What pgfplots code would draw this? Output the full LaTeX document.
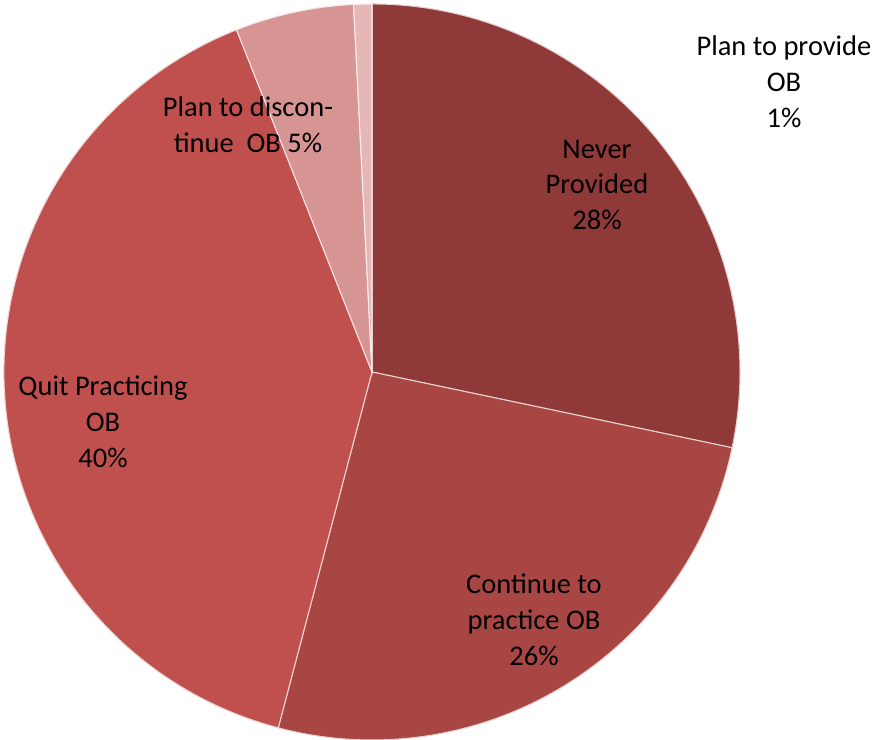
\documentclass[border=0pt]{standalone}
\usepackage{pgfplots}
\pgfplotsset{compat=1.18}
\usepackage{pgfplotstable}
\usetikzlibrary{calc}
\usepackage{fontspec}
\setmainfont{Carlito}

\definecolor{slice0}{RGB}{143,57,56}
\definecolor{slice1}{RGB}{168,70,68}
\definecolor{slice2}{RGB}{192,80,77}
\definecolor{slice3}{RGB}{214,148,146}
\definecolor{slice4}{RGB}{229,184,183}

% share of each slice, clockwise from 12 o'clock
\pgfplotstableread[col sep=comma]{
name,value
Never Provided,28.3
Continue to practice OB,25.8
Quit Practicing OB,39.9
Plan to discontinue OB,5.2
Plan to provide OB,0.8
}\piedata

\begin{document}
\begin{tikzpicture}
\begin{axis}[
  hide axis, scale only axis,
  width=8.8cm, height=7.4cm,
  xmin=0, xmax=880, ymin=0, ymax=740,
  clip=false,
]
\pgfplotstablegetrowsof{\piedata}
\pgfmathtruncatemacro\nrows{\pgfplotsretval-1}
\gdef\cum{0}
\pgfplotsforeachungrouped \i in {0,...,\nrows}{%
  \pgfplotstablegetelem{\i}{value}\of{\piedata}\let\val\pgfplotsretval
  \pgfmathsetmacro\aS{90-3.6*\cum}%
  \pgfmathsetmacro\aE{90-3.6*(\cum+\val)}%
  \pgfmathsetmacro\newcum{\cum+\val}%
  \xdef\cum{\newcum}%
  \edef\slice{\noexpand\filldraw[fill=slice\i, draw=white!75!slice\i, line width=0.3pt]
    (axis cs:372,368) -- ($(axis cs:372,368)+(\aS:3.68cm)$)
    arc[start angle=\aS, end angle=\aE, radius=3.68cm] -- cycle;}%
  \slice
}

\begin{scope}[every node/.style={align=center, font=\fontsize{8.1}{10.2}\selectfont, text=black}]
\node at (axis cs:597,555) {Never\\Provided\\28\%};
\node at (axis cs:534,120) {Continue to\\practice OB\\26\%};
\node at (axis cs:103,318) {Quit Practicing\\OB\\40\%};
\node at (axis cs:248,615) {Plan to discon-\\tinue~ OB 5\%};
\node at (axis cs:784,658) {Plan to provide\\OB\\1\%};
\end{scope}
\end{axis}
\pgfresetboundingbox
\useasboundingbox (current axis.south west) rectangle (current axis.north east);
\end{tikzpicture}
\end{document}
